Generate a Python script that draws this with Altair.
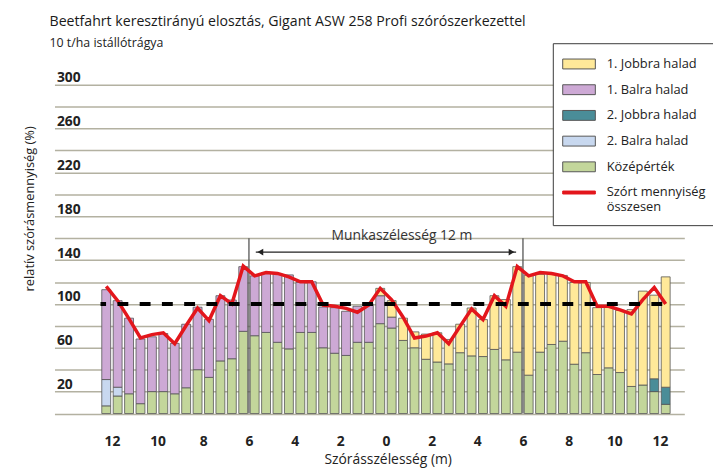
import altair as alt
import pandas as pd

FONT = "Open Sans"

series_names = ["1. Jobbra halad", "1. Balra halad", "2. Jobbra halad", "2. Balra halad",
                "Középérték", "Szórt mennyiség összesen"]
series_colors = ["#ffe999", "#cda9d5", "#4a8d98", "#c8d8ef", "#c3d69b", "#e3161c"]
series_strokes = ["#555555", "#555555", "#555555", "#555555", "#555555", "#e3161c"]

# bar centre positions (m), 0.5 m apart
positions = [-12.25, -11.75, -11.25, -10.75, -10.25, -9.75, -9.25, -8.75, -8.25, -7.75,
             -7.25, -6.75, -6.25, -5.75, -5.25, -4.75, -4.25, -3.75, -3.25, -2.75,
             -2.25, -1.75, -1.25, -0.75, -0.25, 0.25, 0.75, 1.25, 1.75, 2.25,
             2.75, 3.25, 3.75, 4.25, 4.75, 5.25, 5.75, 6.25, 6.75, 7.25,
             7.75, 8.25, 8.75, 9.25, 9.75, 10.25, 10.75, 11.25, 11.75, 12.25]

kozep = [7, 16, 18, 9, 20, 20, 18, 23.5, 40, 33, 48, 50, 75,
         71, 74, 65, 59, 74, 74, 60, 55, 53, 65, 65, 82, 78,
         66.7, 60, 49.5, 47, 45.3, 55.5, 52.6, 52, 58.5, 49, 56, 35, 56,
         63, 66, 45, 55.5, 35.6, 41.7, 37.4, 24.7, 26, 20, 8.4]
balra2 = [24, 8, 0, 0, 0, 0, 0, 0, 0, 0, 0, 0, 0,
          0, 0, 0, 0, 0, 0, 0, 0, 0, 0, 0, 0, 0,
          0, 0, 0, 0, 0, 0, 0, 0, 0, 0, 0, 0, 0,
          0, 0, 0, 0, 0, 0, 0, 0, 0, 0, 0]
jobbra2 = [0, 0, 0, 0, 0, 0, 0, 0, 0, 0, 0, 0, 0,
           0, 0, 0, 0, 0, 0, 0, 0, 0, 0, 0, 0, 0,
           0, 0, 0, 0, 0, 0, 0, 0, 0, 0, 0, 0, 0,
           0, 0, 0, 0, 0, 0, 0, 0, 0, 11.7, 15.6]
balra1 = [82, 79, 69, 59, 50, 53, 46, 58, 57, 53, 59.5, 53.6, 59,
          54.6, 54.7, 62.8, 67.5, 45.6, 46.2, 37.2, 41.6, 40.3, 32.9, 35, 25.5, 10,
          0, 0, 0, 0, 0, 0, 0, 0, 0, 0, 0, 0, 0,
          0, 0, 0, 0, 0, 0, 0, 0, 0, 0, 0]
jobbra1 = [0, 0, 0, 0, 0, 0, 0, 0, 0, 0, 0, 0, 0,
           0, 0, 0, 0, 0, 0, 0, 0, 0, 0, 0, 6.7, 15,
           20.3, 14.5, 23, 26.7, 22.3, 26, 43.7, 33.7, 49, 55, 78, 91.2, 71,
           64, 60, 74.6, 64.1, 61, 55.5, 56.8, 70.1, 85.7, 76.3, 100.7]
osszesen = [116, 103, 86.4, 69, 72, 73.7, 63.7, 80.3, 96.3, 84.8, 107.5, 100, 134.5,
            125.6, 128.7, 127.8, 124.7, 120.2, 120.2, 99, 97.9, 96, 92.4, 99, 114.2, 103.7,
            87.9, 68.9, 70.7, 73.7, 63.7, 79.7, 95.4, 85.7, 107.5, 97.9, 134.1, 125.6, 128.7,
            127.8, 125.6, 120.2, 120.2, 97.9, 97.9, 94.5, 90.9, 103.9, 115.1, 100]

x_ticks = [-12, -10, -8, -6, -4, -2, 0, 2, 4, 6, 8, 10, 12]
work_edges = [-6, 6]

# ---- build tables ----
stack_parts = [("Középérték", kozep), ("2. Balra halad", balra2), ("2. Jobbra halad", jobbra2),
               ("1. Balra halad", balra1), ("1. Jobbra halad", jobbra1)]
rows = []
for order, (name, vals) in enumerate(stack_parts):
    for x, v in zip(positions, vals):
        if v > 0:
            rows.append({"x": x, "value": v, "series": name, "ord": order})
bars_df = pd.DataFrame(rows)
line_df = pd.DataFrame({"x": positions, "total": osszesen})

xscale = alt.Scale(domain=[-14.3, 12.85], nice=False, zero=False)
yscale = alt.Scale(domain=[0, 300], nice=False, zero=True)
color_scale = alt.Scale(domain=series_names, range=series_colors)
shape_scale = alt.Scale(domain=series_names,
                        range=["M-1.65,-0.5H1.65V0.5H-1.65Z"] * 5 + ["M-1.65,-0.15H1.65V0.15H-1.65Z"])
stroke_scale = alt.Scale(domain=series_names, range=series_strokes)

x_axis = alt.Axis(values=x_ticks, labelExpr="abs(datum.value)", grid=False, domain=False,
                  ticks=False, labelPadding=21, labelFont=FONT, labelFontSize=14,
                  labelFontWeight="bold", labelColor="#222222", labelFlush=False,
                  labelOverlap=False, title="Szórásszélesség (m)", titleFont=FONT,
                  titleFontSize=14, titleFontWeight="normal", titleColor="#222222",
                  titleX=337, titleY=47, titleBaseline="middle", titleAlign="center")
y_axis = alt.Axis(values=list(range(0, 301, 20)),
                  labelExpr="(datum.value % 40 == 20) ? datum.label : ''",
                  grid=True, gridColor="#b3b1a1", gridWidth=1.3, domain=False, ticks=False,
                  labelAlign="left", labelBaseline="bottom", labelPadding=-2,
                  labelFont=FONT, labelFontSize=14, labelFontWeight="bold",
                  labelColor="#222222", labelFlush=False, labelOverlap=False,
                  title="relatív szórásmennyiség (%)", titleFont=FONT, titleFontSize=13,
                  titleFontWeight="normal", titleColor="#222222", titleX=-25, titleY=125,
                  titleAngle=-90, titleAlign="center", titleBaseline="middle")

legend_spec = alt.Legend(
    title=None, orient="none", legendX=504, legendY=-42, padding=10.5, rowPadding=8,
    symbolSize=400, symbolStrokeWidth=1, symbolOffset=5.5, labelFont=FONT,
    labelFontSize=13, labelColor="#222222", labelOffset=17.5, labelLimit=220,
    fillColor="#ffffff", strokeColor="#3a3a3a",
    labelExpr="datum.label == 'Szórt mennyiség összesen' ? ['Szórt mennyiség', 'összesen'] : datum.label",
)


def X(field):
    return alt.X(field, scale=xscale, axis=x_axis)


def Y(field, **kw):
    return alt.Y(field, scale=yscale, axis=y_axis, **kw)


bars = alt.Chart(bars_df).mark_bar(size=9, stroke="#555555", strokeWidth=0.8).encode(
    x=X("x:Q"),
    y=Y("value:Q", stack="zero"),
    color=alt.Color("series:N", scale=color_scale, legend=legend_spec),
    order=alt.Order("ord:Q", sort="ascending"),
)

edges = alt.Chart(pd.DataFrame({"x": work_edges, "y0": [0, 0], "y1": [160, 160]})).mark_rule(
    color="#555555", strokeWidth=1.3).encode(x=X("x:Q"), y=Y("y0:Q"), y2="y1:Q")

arrow_df = pd.DataFrame({"x1": [-5.7], "x2": [5.7], "y": [147.3]})
arrow = alt.Chart(arrow_df).mark_rule(color="#222222", strokeWidth=1.2).encode(
    x=X("x1:Q"), x2="x2:Q", y=Y("y:Q"))
head_l = alt.Chart(pd.DataFrame({"x": [-5.5], "y": [147.3]})).mark_point(
    shape="triangle-left", filled=True, color="#222222", size=45, opacity=1).encode(
    x=X("x:Q"), y=Y("y:Q"))
head_r = alt.Chart(pd.DataFrame({"x": [5.5], "y": [147.3]})).mark_point(
    shape="triangle-right", filled=True, color="#222222", size=45, opacity=1).encode(
    x=X("x:Q"), y=Y("y:Q"))

label = alt.Chart(pd.DataFrame({"x": [0.7], "y": [162.4], "t": ["Munkaszélesség 12 m"]})).mark_text(
    font=FONT, fontSize=14, color="#333333", align="center", baseline="middle").encode(
    x=X("x:Q"), y=Y("y:Q"), text="t:N")

line = alt.Chart(line_df).mark_line(color="#e3161c", strokeWidth=3.5).encode(
    x=X("x:Q"), y=Y("total:Q"))

dash_df = pd.DataFrame({"x1": [-12.5], "x2": [12.5], "y": [100]})
dashed = alt.Chart(dash_df).mark_rule(color="#000000", strokeWidth=4, strokeDash=[11, 11.5],
                                      strokeDashOffset=5.4).encode(
    x=X("x1:Q"), x2="x2:Q", y=Y("y:Q"))

carrier_df = pd.DataFrame({"series": series_names, "x": [0.0] * 6, "y": [None] * 6})
carrier = alt.Chart(carrier_df).mark_point(filled=True, size=400).encode(
    x=X("x:Q"),
    y=Y("y:Q"),
    color=alt.Color("series:N", scale=color_scale, legend=legend_spec),
    shape=alt.Shape("series:N", scale=shape_scale, legend=legend_spec),
    stroke=alt.Stroke("series:N", scale=stroke_scale, legend=legend_spec),
)

chart = alt.layer(bars, edges, arrow, head_l, head_r, label, line, dashed, carrier).properties(
    width=637, height=332.5,
    padding={"left": 47, "top": 75, "right": 29, "bottom": 54.5},
    autosize=alt.AutoSizeParams(type="none"),
    background="#ffffff",
    title=alt.TitleParams(
        text="Beetfahrt keresztirányú elosztás, Gigant ASW 258 Profi szórószerkezettel",
        subtitle="10 t/ha istállótrágya",
        anchor="start", frame="group", dx=-5, offset=-7,
        font=FONT, fontSize=14.3, fontWeight="normal", color="#1a1a1a",
        subtitleFont=FONT, subtitleFontSize=12.5, subtitleColor="#222222",
        subtitlePadding=8,
    ),
).configure_view(stroke=None)

chart.save("out.html", embed_options={"renderer": "svg", "actions": False})
